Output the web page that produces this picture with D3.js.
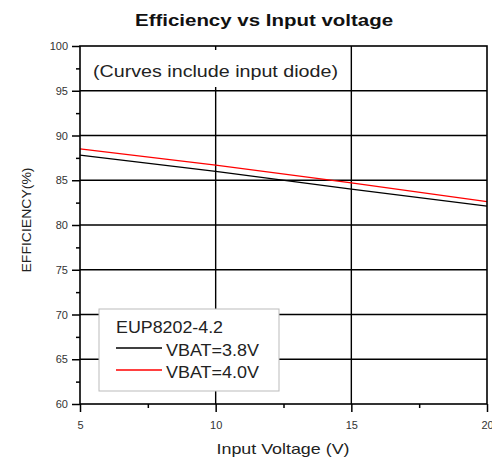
<!DOCTYPE html>
<meta charset="utf-8">
<script src="https://d3js.org/d3.v7.min.js"></script>
<style>
  body { margin: 0; background: #fff; }
  text { font-family: "Liberation Sans", Arial, sans-serif; }
</style>
<div id="chart"></div>
<script>
// data
var voltage = [5, 10, 15, 20];
var eff38 = [87.8, 86.0, 84.0, 82.1];
var eff40 = [88.5, 86.7, 84.7, 82.6];
var seriesNames = ["VBAT=3.8V", "VBAT=4.0V"];
var seriesColors = ["#000000", "#ff0000"];
var xTicks = [5, 10, 15, 20];
var yTicks = [60, 65, 70, 75, 80, 85, 90, 95, 100];

var margin = {top: 46, right: 5, bottom: 57, left: 80},
    width = 492 - margin.left - margin.right,
    height = 461 - margin.top - margin.bottom;

var svg = d3.select("#chart")
  .append("svg")
    .attr("width", 492)
    .attr("height", 461)
  .append("g")
    .attr("transform", "translate(" + margin.left + "," + margin.top + ")");

var x = d3.scaleLinear().domain([5, 20]).range([0, width]);
var y = d3.scaleLinear().domain([60, 100]).range([height, 0]);

// grid lines
svg.append("g")
  .selectAll("line")
  .data(yTicks.slice(1, -1))
  .enter().append("line")
    .attr("x1", 0).attr("x2", width)
    .attr("y1", d => y(d)).attr("y2", d => y(d))
    .attr("stroke", "#000").attr("stroke-width", 1.4);
svg.append("g")
  .selectAll("line")
  .data(xTicks.slice(1, -1))
  .enter().append("line")
    .attr("y1", 0).attr("y2", height)
    .attr("x1", d => x(d)).attr("x2", d => x(d))
    .attr("stroke", "#000").attr("stroke-width", 1.4);

// series
var line = d3.line().x((d, i) => x(voltage[i])).y(d => y(d));
[eff38, eff40].forEach(function (s, k) {
  svg.append("path")
    .datum(s)
    .attr("fill", "none")
    .attr("stroke", seriesColors[k])
    .attr("stroke-width", 1.3)
    .attr("d", line);
});

// annotation with white background covering the grid
var note = svg.append("g").attr("transform", "translate(12,0)");
note.append("rect")
  .attr("x", 0).attr("y", 4).attr("width", 250).attr("height", 37)
  .attr("fill", "#fff");
note.append("text")
  .attr("x", 1).attr("y", 31)
  .attr("font-size", "16px")
  .attr("textLength", 245).attr("lengthAdjust", "spacingAndGlyphs")
  .attr("fill", "#222")
  .text("(Curves include input diode)");

// frame
svg.append("rect")
  .attr("width", width).attr("height", height)
  .attr("fill", "none").attr("stroke", "#000").attr("stroke-width", 1.6);

// axes
svg.append("g")
  .attr("transform", "translate(0," + height + ")")
  .call(d3.axisBottom(x).tickValues(xTicks).tickSize(8).tickPadding(9).tickFormat(d3.format("d")));
svg.append("g")
  .attr("transform", "translate(0," + height + ")")
  .call(d3.axisBottom(x).tickValues([7.5, 12.5, 17.5]).tickSize(4).tickFormat(""));
svg.append("g")
  .call(d3.axisLeft(y).tickValues(yTicks).tickSize(8).tickPadding(4).tickFormat(d3.format("d")));
svg.append("g")
  .call(d3.axisLeft(y).tickValues([62.5, 67.5, 72.5, 77.5, 82.5, 87.5, 92.5, 97.5]).tickSize(4).tickFormat(""));

svg.selectAll(".domain").remove();
svg.selectAll(".tick line").attr("stroke", "#000").attr("stroke-width", 1.5);
svg.selectAll(".tick text")
  .attr("fill", "#333")
  .style("font-size", "11px")
  .style("font-family", "Liberation Sans, Arial, sans-serif");

// legend
var leg = svg.append("g").attr("transform", "translate(" + 19 + "," + 263 + ")");
leg.append("rect")
  .attr("width", 180).attr("height", 82)
  .attr("fill", "#fff").attr("stroke", "#bbb").attr("stroke-width", 1);
leg.append("text")
  .attr("x", 17).attr("y", 24)
  .attr("font-size", "16px").attr("fill", "#222")
  .attr("textLength", 107).attr("lengthAdjust", "spacingAndGlyphs")
  .text("EUP8202-4.2");
seriesNames.forEach(function (name, k) {
  var yy = 39 + k * 22;
  leg.append("line")
    .attr("x1", 17).attr("x2", 63)
    .attr("y1", yy).attr("y2", yy)
    .attr("stroke", seriesColors[k]).attr("stroke-width", 1.5);
  leg.append("text")
    .attr("x", 67).attr("y", yy + 8)
    .attr("font-size", "16px").attr("fill", "#222")
    .attr("textLength", 93).attr("lengthAdjust", "spacingAndGlyphs")
    .text(name);
});

// titles
d3.select("svg").append("text")
  .attr("x", 264).attr("y", 26)
  .attr("text-anchor", "middle")
  .attr("font-size", "16px").attr("font-weight", "bold").attr("fill", "#111")
  .attr("textLength", 258).attr("lengthAdjust", "spacingAndGlyphs")
  .text("Efficiency vs Input voltage");
d3.select("svg").append("text")
  .attr("x", 283).attr("y", 454)
  .attr("text-anchor", "middle")
  .attr("font-size", "15px").attr("fill", "#222")
  .attr("textLength", 133).attr("lengthAdjust", "spacingAndGlyphs")
  .text("Input Voltage (V)");
d3.select("svg").append("text")
  .attr("transform", "translate(31,220) rotate(-90)")
  .attr("text-anchor", "middle")
  .attr("font-size", "12px").attr("fill", "#222")
  .attr("textLength", 105).attr("lengthAdjust", "spacingAndGlyphs")
  .text("EFFICIENCY(%)");
</script>
